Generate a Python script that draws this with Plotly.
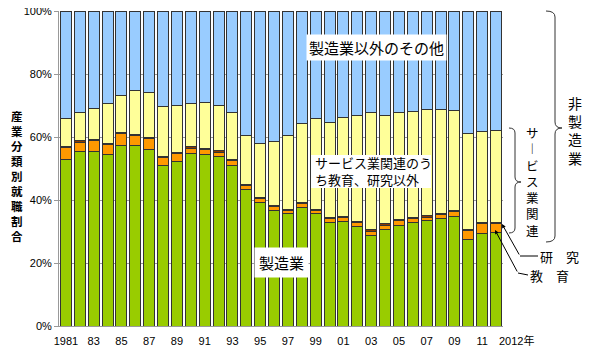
import plotly.graph_objects as go

# ---------------- data (percent of employment) ----------------
years = ['1981', '1982', '1983', '1984', '1985', '1986', '1987', '1988', '1989', '1990',
         '1991', '1992', '1993', '1994', '1995', '1996', '1997', '1998', '1999', '2000',
         '2001', '2002', '2003', '2004', '2005', '2006', '2007', '2008', '2009', '2010',
         '2011', '2012']

manufacturing = [52.9, 55.3, 55.3, 54.3, 57.2, 57.2, 56.1, 50.8, 52.3, 54.8,
                 54.5, 53.9, 50.9, 43.3, 39.3, 36.8, 35.6, 37.7, 35.8, 32.9,
                 33.3, 31.5, 28.6, 30.5, 31.9, 32.9, 33.4, 34.2, 34.9, 27.6,
                 29.4, 29.6]
education = [3.8, 3.1, 3.6, 3.3, 3.9, 3.2, 3.3, 2.6, 2.4, 1.7,
             1.6, 1.3, 1.6, 1.2, 1.1, 1.2, 1.1, 1.1, 0.9, 1.1,
             1.2, 1.4, 1.5, 1.5, 1.5, 1.2, 1.2, 1.2, 1.3, 2.7,
             3.2, 3.0]
research = [0.4, 0.4, 0.4, 0.4, 0.4, 0.4, 0.4, 0.4, 0.4, 0.4,
            0.4, 0.4, 0.4, 0.4, 0.4, 0.4, 0.4, 0.4, 0.4, 0.4,
            0.4, 0.4, 0.4, 0.4, 0.4, 0.4, 0.4, 0.4, 0.4, 0.4,
            0.4, 0.4]
service_other = [8.8, 9.0, 9.8, 12.7, 11.8, 13.9, 14.4, 16.0, 15.0, 13.6,
                 14.5, 14.5, 15.0, 15.5, 17.2, 20.3, 23.5, 25.1, 28.8, 30.3,
                 31.2, 33.5, 37.2, 34.5, 33.9, 33.5, 33.8, 33.0, 31.8, 30.5,
                 28.9, 29.2]
non_manuf_other = [34.1, 32.2, 30.9, 29.3, 26.7, 25.3, 25.8, 30.2, 29.9, 29.5,
                   29.0, 29.9, 32.1, 39.6, 42.0, 41.3, 39.4, 35.7, 34.1, 35.3,
                   33.9, 33.2, 32.3, 33.1, 32.3, 32.0, 31.2, 31.2, 31.6, 38.8,
                   38.1, 37.8]

tick_years = ['1981', '1983', '1985', '1987', '1989', '1991', '1993', '1995', '1997',
              '1999', '2001', '2003', '2005', '2007', '2009', '2011']
tick_text = ['1981', '83', '85', '87', '89', '91', '93', '95', '97',
             '99', '01', '03', '05', '07', '09', '11']
last_label = '2012年'
y_ticks = [0, 20, 40, 60, 80, 100]
y_tick_text = ['0%', '20%', '40%', '60%', '80%', '100%']

series = [
    ('製造業', manufacturing, '#99CC00'),
    ('教育', education, '#FF9900'),
    ('研究', research, '#8A3A00'),
    ('サービス業関連のうち教育、研究以外', service_other, '#FFFF99'),
    ('製造業以外のその他', non_manuf_other, '#99CCFF'),
]

# ---------------- layout geometry ----------------
W, H = 600, 360
OFF = 8                      # page body margin offset
PL, PT, PW, PH = 59, 11, 444, 315   # target plot box in screenshot pixels
ML, MT = PL - OFF, PT - OFF
MR = W - ML - PW
MB = H - MT - PH


def pxx(x):
    return (x - PL) / PW


def pxy(y):
    return (PT + PH - y) / PH


FONT = 'Arial, Liberation Sans, Noto Sans CJK JP, sans-serif'
JFONT = 'Noto Sans CJK JP, sans-serif'

fig = go.Figure()
for name, vals, col in series:
    fig.add_trace(go.Bar(x=years, y=vals, name=name,
                         marker=dict(color=col, line=dict(color='#333333', width=1)),
                         hoverinfo='name+y'))

fig.update_layout(
    width=W, height=H, barmode='stack', bargap=0.2,
    margin=dict(l=ML, r=MR, t=MT, b=MB, pad=0, autoexpand=False),
    paper_bgcolor='white', plot_bgcolor='white', showlegend=False,
    font=dict(family=FONT, size=11, color='#000000'),
    xaxis=dict(type='category', tickmode='array', tickvals=tick_years, ticktext=tick_text,
               tickangle=0, showgrid=False, showline=True, linecolor='#999999', linewidth=1,
               ticks='', ticklabelstandoff=5, automargin=False, ticklabeloverflow='allow',
               tickfont=dict(size=11, family=FONT)),
    yaxis=dict(range=[0, 100], tickmode='array', tickvals=y_ticks, ticktext=y_tick_text,
               showgrid=True, gridcolor='#999999', gridwidth=1, zeroline=False,
               showline=True, linecolor='#999999', linewidth=1, automargin=False,
               ticklabeloverflow='allow',
               ticks='outside', ticklen=4, tickcolor='#999999',
               tickfont=dict(size=11, family=FONT)),
)

ann = []
# 2012年 label
ann.append(dict(text=last_label, xref='paper', yref='paper', x=pxx(497), y=pxy(340.5),
                xanchor='left', yanchor='middle', showarrow=False,
                font=dict(size=11, family=FONT)))
# y-axis title (vertical)
ann.append(dict(text='<b>' + '<br>'.join('産業分類別就職割合') + '</b>', xref='paper', yref='paper',
                x=pxx(9), y=pxy(176), xanchor='left', yanchor='middle', showarrow=False,
                font=dict(size=11.5, family=JFONT, color='#000000'), align='center'))
# in-chart labels with white boxes
ann.append(dict(text='製造業以外のその他', xref='paper', yref='paper', x=pxx(376), y=pxy(47),
                xanchor='center', yanchor='middle', showarrow=False, bgcolor='white', borderpad=2,
                font=dict(size=15, family=JFONT)))
ann.append(dict(text='サービス業関連のう<br>ち教育、研究以外', xref='paper', yref='paper',
                x=pxx(313), y=pxy(171), align='left',
                xanchor='left', yanchor='middle', showarrow=False,
                font=dict(size=13, family=JFONT)))
ann.append(dict(text='製造業', xref='paper', yref='paper', x=pxx(281), y=pxy(262),
                xanchor='center', yanchor='middle', showarrow=False, bgcolor='white', borderpad=4,
                font=dict(size=15, family=JFONT)))
# right-side labels
ann.append(dict(text='<br>'.join('非製造業'), xref='paper', yref='paper', x=pxx(575), y=pxy(130),
                xanchor='center', yanchor='middle', showarrow=False,
                font=dict(size=14, family=JFONT)))
ann.append(dict(text='<br>'.join(['サ', '︱', 'ビ', 'ス', '業', '関', '連']), xref='paper', yref='paper',
                x=pxx(532), y=pxy(181), xanchor='center', yanchor='middle', showarrow=False,
                font=dict(size=12.5, family=JFONT)))
ann.append(dict(text='研　究', xref='paper', yref='paper', x=pxx(559), y=pxy(256),
                xanchor='center', yanchor='middle', showarrow=False,
                font=dict(size=13, family=JFONT)))
ann.append(dict(text='教　育', xref='paper', yref='paper', x=pxx(549), y=pxy(275),
                xanchor='center', yanchor='middle', showarrow=False,
                font=dict(size=13, family=JFONT)))
# arrows
ann.append(dict(text='', xref='paper', yref='paper', x=pxx(502), y=pxy(224),
                ax=18, ay=32, showarrow=True, arrowhead=2, arrowsize=0.8, arrowwidth=1,
                arrowcolor='#000000'))
ann.append(dict(text='', xref='paper', yref='paper', x=pxx(495), y=pxy(230),
                ax=23, ay=43, showarrow=True, arrowhead=2, arrowsize=0.8, arrowwidth=1,
                arrowcolor='#000000'))
fig.update_layout(annotations=ann)


def brace(x0, x1, x2, yt, ym, yb, r):
    pts = [('M', [(x0, yt)]), ('Q', [(x1, yt), (x1, yt + r)]), ('L', [(x1, ym - r)]),
           ('Q', [(x1, ym), (x2, ym)]), ('Q', [(x1, ym), (x1, ym + r)]), ('L', [(x1, yb - r)]),
           ('Q', [(x1, yb), (x0, yb)])]
    s = ''
    for cmd, ps in pts:
        s += cmd + ' ' + ' '.join(f'{pxx(a):.5f},{pxy(b):.5f}' for a, b in ps) + ' '
    return s.strip()


shapes = [
    # white box behind the two-line service label
    dict(type='rect', xref='paper', yref='paper', layer='above',
         x0=pxx(311), x1=pxx(431), y0=pxy(155), y1=pxy(188),
         fillcolor='white', line=dict(width=0)),
    dict(type='path', xref='paper', yref='paper', path=brace(546, 555, 562, 11, 128, 242, 6),
         line=dict(color='#333333', width=1)),
    dict(type='path', xref='paper', yref='paper', path=brace(509, 515, 521, 128, 182, 233, 5),
         line=dict(color='#333333', width=1)),
    dict(type='line', xref='paper', yref='paper', x0=pxx(520), y0=pxy(256), x1=pxx(538), y1=pxy(256),
         line=dict(color='#000000', width=1)),
    dict(type='line', xref='paper', yref='paper', x0=pxx(518), y0=pxy(273), x1=pxx(528), y1=pxy(275),
         line=dict(color='#000000', width=1)),
]
fig.update_layout(shapes=shapes)

fig.write_html('out.html')
